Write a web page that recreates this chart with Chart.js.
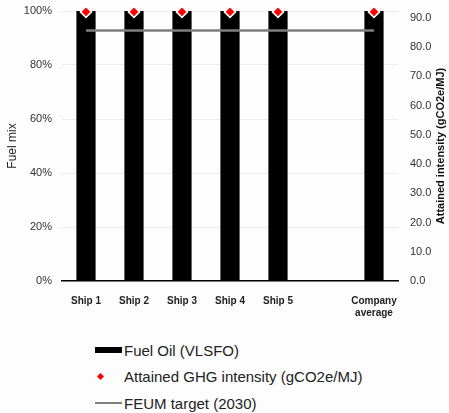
<!DOCTYPE html>
<html>
<head>
<meta charset="utf-8">
<script src="https://cdn.jsdelivr.net/npm/chart.js@4.4.1/dist/chart.umd.min.js"></script>
<style>
  body { margin: 0; background: #fdfdfd; font-family: "Liberation Sans", Arial, sans-serif; }
  #wrap { position: relative; width: 449px; height: 413px; }
  #box { position: absolute; left: 0; top: 0; width: 449px; height: 325px; }
  #legend { position: absolute; left: 95px; top: 337px; font-size: 15px; color: #222; }
  .item { height: 26.5px; display: flex; align-items: center; }
  .mark { width: 27px; height: 10px; position: relative; margin-right: 2px; }
</style>
</head>
<body>
<div id="wrap">
  <div id="box"><canvas id="myChart"></canvas></div>
  <div id="legend"></div>
</div>
<script>
const categories = ["Ship 1", "Ship 2", "Ship 3", "Ship 4", "Ship 5", "", ["Company", "average"]];
const fuelOil = [1, 1, 1, 1, 1, null, 1];
const attained = [92.1, 92.1, 92.1, 92.1, 92.1, null, 92.1];
const feumTarget = [85.7, 85.7, 85.7, 85.7, 85.7, 85.7, 85.7];
const leftTicks = [0, 0.2, 0.4, 0.6, 0.8, 1];
const rightTicks = [0, 10, 20, 30, 40, 50, 60, 70, 80, 90];
const rightTitle = "Attained intensity (gCO2e/MJ)";

const ctx = document.getElementById("myChart");
const tickFont = { family: "Liberation Sans", size: 11 };

// right axis title reads bottom-to-top in the reference
const rightTitlePlugin = {
  id: "rightTitle",
  afterDraw(chart) {
    const area = chart.chartArea;
    const c = chart.ctx;
    c.save();
    c.translate(441, (area.top + area.bottom) / 2);
    c.rotate(-Math.PI / 2);
    c.font = "bold 11px 'Liberation Sans'";
    c.fillStyle = "#111";
    c.textAlign = "center";
    c.textBaseline = "middle";
    c.fillText(rightTitle, 0, 0);
    c.restore();
  },
};

function fixAxis(width) {
  return (axis) => {
    axis.width = width;
    axis.paddingTop = 0;
    axis.paddingBottom = 0;
  };
}

const data = {
  labels: categories,
  datasets: [
    {
      type: "line",
      label: "Attained GHG intensity (gCO2e/MJ)",
      data: attained,
      yAxisID: "y1",
      showLine: false,
      pointStyle: "rectRot",
      pointRadius: 5.5,
      pointBackgroundColor: "#ff0000",
      pointBorderColor: "#ffffff",
      pointBorderWidth: 1.5,
      clip: false,
      order: 1,
    },
    {
      type: "line",
      label: "FEUM target (2030)",
      data: feumTarget,
      yAxisID: "y1",
      borderColor: "#7f7f7f",
      borderWidth: 2.5,
      pointRadius: 0,
      order: 2,
    },
    {
      type: "bar",
      label: "Fuel Oil (VLSFO)",
      data: fuelOil,
      yAxisID: "y",
      backgroundColor: "#000000",
      barPercentage: 0.4,
      categoryPercentage: 1,
      order: 3,
    },
  ],
};

const options = {
  responsive: true,
  maintainAspectRatio: false,
  animation: false,
  layout: { padding: { top: 11, left: 0, right: 0, bottom: 0 } },
  plugins: { legend: { display: false }, tooltip: { enabled: false } },
  scales: {
    x: {
      grid: { display: false },
      border: { color: "#000000", width: 1.5 },
      ticks: { color: "#222", font: { family: "Liberation Sans", size: 10, weight: "bold" }, maxRotation: 0, autoSkip: false, padding: 6 },
    },
    y: {
      position: "left",
      min: 0,
      max: 1,
      afterBuildTicks: (axis) => { axis.ticks = leftTicks.map((v) => ({ value: v })); },
      afterFit: fixAxis(62),
      ticks: { color: "#333", font: tickFont, padding: 10, callback: (v) => Math.round(v * 100) + "%" },
      grid: { color: "#ededed", drawTicks: false },
      border: { display: false },
      title: { display: true, text: "Fuel mix", color: "#222", font: { family: "Liberation Sans", size: 12 }, padding: { top: 5, bottom: 2 } },
    },
    y1: {
      position: "right",
      min: 0,
      max: 92.4,
      afterBuildTicks: (axis) => { axis.ticks = rightTicks.map((v) => ({ value: v })); },
      afterFit: fixAxis(51),
      ticks: { color: "#333", font: tickFont, padding: 12, callback: (v) => v.toFixed(1) },
      grid: { display: false, drawTicks: false, tickLength: 0 },
      border: { display: false },
    },
  },
};

const chart = new Chart(ctx, { data, options, plugins: [rightTitlePlugin] });

// legend in the order of the reference
const legendDiv = document.getElementById("legend");
const legendOrder = [2, 0, 1];
legendOrder.forEach((i) => {
  const ds = chart.data.datasets[i];
  const item = document.createElement("div");
  item.className = "item";
  const mark = document.createElement("div");
  mark.className = "mark";
  if (ds.type === "bar") {
    mark.innerHTML = '<div style="position:absolute;left:0;top:2px;width:27px;height:6px;background:' + ds.backgroundColor + '"></div>';
  } else if (ds.showLine === false) {
    mark.innerHTML = '<div style="position:absolute;left:3px;top:2px;width:5px;height:5px;background:' + ds.pointBackgroundColor + ';transform:rotate(45deg)"></div>';
  } else {
    mark.innerHTML = '<div style="position:absolute;left:0;top:4px;width:27px;height:2px;background:' + ds.borderColor + '"></div>';
  }
  item.appendChild(mark);
  const txt = document.createElement("span");
  txt.textContent = ds.label;
  item.appendChild(txt);
  legendDiv.appendChild(item);
});
</script>
</body>
</html>
